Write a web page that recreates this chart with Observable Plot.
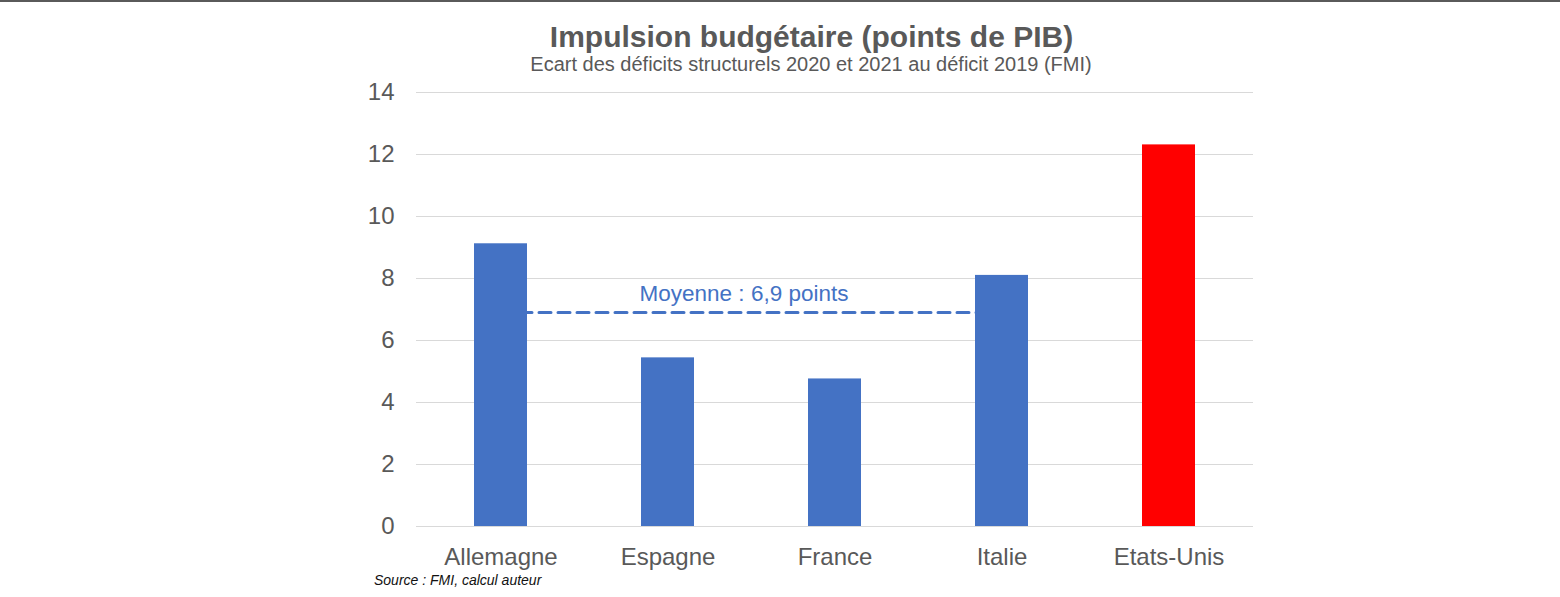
<!DOCTYPE html>
<html>
<head>
<meta charset="utf-8">
<script src="https://cdn.jsdelivr.net/npm/d3@7"></script>
<script src="https://cdn.jsdelivr.net/npm/@observablehq/plot@0.6"></script>
<style>
  html, body { margin: 0; padding: 0; background: #fff; }
  #wrap { position: relative; width: 1560px; height: 597px; overflow: hidden; font-family: "Liberation Sans", Arial, sans-serif; border-top: 2px solid #5a5a5a; box-sizing: border-box; }
  .t { position: absolute; white-space: nowrap; color: #595959; }
  #title { font-size: 30px; font-weight: bold; line-height: 30px; left: 811.5px; transform: translateX(-50%); top: 20px; }
  #subtitle { font-size: 20px; line-height: 20px; left: 811px; transform: translateX(-50%); top: 52px; }
  #source { font-size: 14px; line-height: 14px; font-style: italic; left: 374px; top: 571px; color: #111; }
  #chart { position: absolute; left: 0; top: -2px; }
</style>
</head>
<body>
<div id="wrap">
  <div id="chart"></div>
  <div class="t" id="title">Impulsion budgétaire (points de PIB)</div>
  <div class="t" id="subtitle">Ecart des déficits structurels 2020 et 2021 au déficit 2019 (FMI)</div>
  <div class="t" id="source">Source : FMI, calcul auteur</div>
</div>
<script>
// ---- data ----
const countries = ["Allemagne", "Espagne", "France", "Italie", "Etats-Unis"];
const impulse = [9.12, 5.44, 4.76, 8.1, 12.31];
const highlighted = ["Etats-Unis"];
const yTicks = [0, 2, 4, 6, 8, 10, 12, 14];
const meanValue = 6.9;
const meanFrom = "Allemagne";
const meanTo = "Italie";
const meanLabel = "Moyenne : 6,9 points";

const rows = countries.map((c, i) => ({country: c, value: impulse[i]}));
const meanLine = [{country: meanFrom, value: meanValue}, {country: meanTo, value: meanValue}];

const BLUE = "#4472C4", RED = "#FF0000";

const chart = Plot.plot({
  width: 1560,
  height: 597,
  marginTop: 92,
  marginBottom: 71,
  marginLeft: 416,
  marginRight: 307,
  style: {fontFamily: '"Liberation Sans", Arial, sans-serif', fontSize: "24px", color: "#595959", background: "transparent", overflow: "visible"},
  x: {domain: countries, paddingInner: 0.68, paddingOuter: 0.34, label: null},
  y: {domain: [0, 14], label: null},
  marks: [
    Plot.gridY(yTicks, {stroke: "#d9d9d9", strokeOpacity: 1, strokeWidth: 1}),
    Plot.axisY(yTicks, {tickSize: 0, tickPadding: 22, fontSize: 24, fill: "#595959", label: null}),
    Plot.axisX({tickSize: 0, tickPadding: 21, fontSize: 24, fill: "#595959", label: null}),
    Plot.line(meanLine, {x: "country", y: "value", stroke: BLUE, strokeWidth: 3, strokeDasharray: "12,7"}),
    Plot.barY(rows, {x: "country", y: "value", fill: d => highlighted.includes(d.country) ? RED : BLUE}),
    Plot.text([{country: "Espagne", value: meanValue}], {x: "country", y: "value", text: () => meanLabel, dx: 76, dy: -12, lineAnchor: "bottom", fill: BLUE, fontSize: 22.5})
  ]
});
document.getElementById("chart").appendChild(chart);
</script>
</body>
</html>
